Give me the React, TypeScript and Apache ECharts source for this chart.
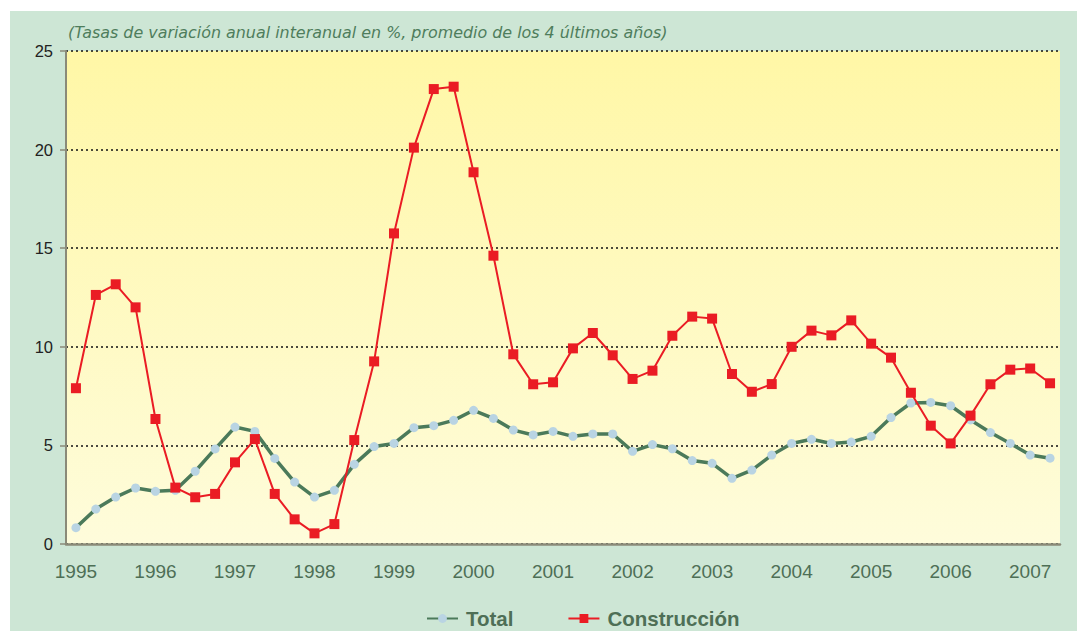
import React, { useEffect, useRef } from "react";
import * as echarts from "echarts";

const years = ["1995", "1996", "1997", "1998", "1999", "2000", "2001", "2002", "2003", "2004", "2005", "2006", "2007"];
const quarters = ["I", "II", "III", "IV"];

const total = [
  0.83, 1.77, 2.38, 2.84, 2.67, 2.72, 3.69, 4.82, 5.93, 5.71,
  4.34, 3.14, 2.38, 2.72, 4.04, 4.94, 5.1, 5.9, 6.0, 6.27,
  6.78, 6.37, 5.78, 5.53, 5.71, 5.46, 5.58, 5.58, 4.7, 5.04,
  4.83, 4.23, 4.09, 3.33, 3.75, 4.51, 5.1, 5.31, 5.1, 5.17,
  5.46, 6.41, 7.15, 7.18, 7.01, 6.29, 5.65, 5.1, 4.51, 4.35,
];

const construccion = [
  7.9, 12.63, 13.17, 12.0, 6.34, 2.86, 2.37, 2.54, 4.14, 5.32,
  2.54, 1.25, 0.54, 1.01, 5.27, 9.26, 15.75, 20.1, 23.07, 23.19,
  18.85, 14.62, 9.62, 8.1, 8.2, 9.92, 10.7, 9.57, 8.37, 8.79,
  10.56, 11.53, 11.43, 8.62, 7.72, 8.11, 10.0, 10.82, 10.58, 11.34,
  10.16, 9.45, 7.67, 6.0, 5.1, 6.51, 8.1, 8.84, 8.9, 8.15,
];

const yTicks = [0, 5, 10, 15, 20, 25];

const categories: string[] = [];
years.forEach((y) => quarters.forEach((q) => categories.push(y + "-" + q)));
const cats = categories.slice(0, total.length);

const TITLE = "(Tasas de variación anual interanual en %, promedio de los 4 últimos años)";

export default function App() {
  const ref = useRef<HTMLDivElement>(null);
  useEffect(() => {
    if (!ref.current) return;
    const chart = echarts.init(ref.current, null, { renderer: "svg" });
    const font = "Arial, 'Liberation Sans', Helvetica, sans-serif";
    chart.setOption({
      animation: false,
      backgroundColor: "#cde6d5",
      textStyle: { fontFamily: font },
      title: {
        text: TITLE,
        left: 53,
        top: 8,
        textStyle: { fontFamily: "'DejaVu Sans', sans-serif", fontStyle: "italic", fontWeight: "normal", fontSize: 15.9, color: "#4f7d5c" },
      },
      grid: {
        left: 56,
        top: 40,
        right: 17,
        bottom: 87,
        show: true,
        borderWidth: 0,
        backgroundColor: new echarts.graphic.LinearGradient(0, 0, 0, 1, [
          { offset: 0, color: "#fff7a6" },
          { offset: 1, color: "#fefcdb" },
        ]),
      },
      legend: {
        top: 592,
        left: 411,
        itemGap: 54,
        itemWidth: 31,
        itemHeight: 11,
        textStyle: { fontFamily: font, fontSize: 20.5, fontWeight: "bold", color: "#4e6f56", padding: [0, 0, 0, 3] },
        data: ["Total", "Construcción"],
      },
      xAxis: {
        type: "category",
        data: cats,
        boundaryGap: true,
        axisLine: { show: true, lineStyle: { color: "#8a8a78", width: 2.5 } },
        axisTick: { show: false },
        axisLabel: {
          interval: 3,
          margin: 18,
          fontSize: 19,
          color: "#4e6f56",
          fontFamily: font,
          formatter: (v: string) => v.split("-")[0],
        },
        splitLine: { show: false },
      },
      yAxis: {
        type: "value",
        min: yTicks[0],
        max: yTicks[yTicks.length - 1],
        interval: 5,
        axisLine: { show: true, lineStyle: { color: "#8a8a78", width: 2 } },
        axisTick: { show: true, length: 6, lineStyle: { color: "#8a8a78", width: 1.5 } },
        axisLabel: { fontSize: 16.5, color: "#222", margin: 13, fontFamily: font },
        splitLine: { show: true, lineStyle: { color: "#111", width: 1.6, type: [2, 3] } },
      },
      series: [
        {
          name: "Total",
          type: "line",
          data: total,
          symbol: "circle",
          symbolSize: 9,
          z: 2,
          lineStyle: { color: "#4b7a5a", width: 3.5 },
          itemStyle: { color: "#b9d4e3", borderWidth: 0 },
        },
        {
          name: "Construcción",
          type: "line",
          data: construccion,
          symbol: "rect",
          symbolSize: 10,
          z: 3,
          lineStyle: { color: "#ea1c24", width: 2 },
          itemStyle: { color: "#ea1c24", borderWidth: 0 },
        },
      ],
    });
    return () => chart.dispose();
  }, []);
  return (
    <div
      ref={ref}
      style={{ position: "fixed", left: 10, top: 11, width: 1067, height: 620 }}
    />
  );
}
